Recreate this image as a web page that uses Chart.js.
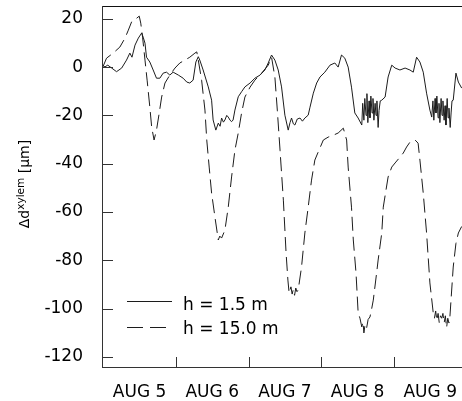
<!DOCTYPE html>
<html>
<head>
<meta charset="utf-8">
<script src="https://cdn.jsdelivr.net/npm/chart.js@4.4.1/dist/chart.umd.min.js"></script>
<style>
  html, body { margin: 0; padding: 0; background: #fff; overflow: hidden; }
</style>
</head>
<body>
<canvas id="chart" width="462" height="401"></canvas>
<script>
// hours since Aug 5 00:00, dxylem in um
const solidHours = [
  0, 0.6, 1.5, 2.8, 4.4, 6.1, 7.7, 8.8, 9.5, 10.5, 11.6, 12.7, 13.2, 13.8, 14.3, 15.4, 16.5, 17.6, 18.7, 19.8,
  20.9, 22.0, 23.1, 24.8, 26.4, 27.6, 28.6, 29.7, 30.6, 31.4, 31.9, 33.0, 34.7, 35.8, 36.3, 37.2, 38.0, 38.6, 39.1, 39.7,
  40.2, 40.8, 41.3, 41.9, 42.4, 42.9, 43.5, 44.6, 45.7, 46.8, 48.5, 50.1, 51.8, 53.4, 54.5, 55.6, 56.7, 57.8, 58.9, 60.0,
  61.1, 61.7, 62.2, 62.8, 63.3, 64.1, 65.0, 65.8, 66.6, 67.7, 68.3, 69.4, 70.5, 71.6, 73.2, 74.9, 76.5, 77.6, 78.7, 79.8,
  80.9, 82.0, 83.1, 84.2, 85.4, 85.7, 86.1, 86.4, 86.8, 87.1, 87.4, 87.8, 88.1, 88.4, 88.8, 89.1, 89.4, 89.8, 90.1, 90.4,
  90.8, 91.1, 91.5, 92.0, 93.1, 94.1, 95.3, 96.4, 98.0, 99.7, 101.3, 102.4, 103.5, 104.6, 105.7, 106.8, 107.9, 108.5, 108.9, 109.2,
  109.6, 109.9, 110.2, 110.6, 110.9, 111.2, 111.6, 111.9, 112.2, 112.6, 112.9, 113.2, 113.6, 113.9, 114.2, 114.6, 114.9, 115.2, 115.6, 116.5,
  117.3, 118.4
]
const solidValues = [
  0.4, 0.1, 0.8, -0.4, -1.9, -0.4, 2.9, 5.8, 4.1, 9.1, 12.0, 14.1, 12.4, 9.9, 4.1, 2.1, -1.2, -4.6, -4.6, -2.5,
  -2.1, -3.3, -2.1, -3.3, -4.6, -6.2, -6.6, -5.4, 2.1, 4.3, 2.9, -1.2, -8.2, -13.7, -21.9, -26.1, -23.2, -24.5, -21.1, -22.8,
  -21.9, -20.0, -20.7, -22.0, -22.6, -21.9, -17.8, -12.3, -10.2, -8.2, -6.6, -4.6, -3.3, -1.2, 1.7, 5.0, 2.9, -1.2, -8.2, -19.9,
  -26.1, -23.0, -21.1, -23.5, -24.0, -21.5, -21.1, -22.4, -21.1, -19.9, -16.6, -10.8, -6.6, -4.1, -2.1, 0.8, 1.7, 0, 5.0, 3.7,
  0, -8.3, -19.0, -21.1, -24.0, -15, -22, -13, -20, -11, -23, -14, -21, -12, -19, -13, -22, -15, -20, -14,
  -25, -18, -14, -13.7, -12.4, -4.1, 0.8, -0.4, -1.2, -0.4, -1.2, -2.1, 4.1, 2.1, -2.1, -10.8, -17.8, -20.7, -14, -22,
  -13, -19, -12, -21, -15, -23, -13, -20, -14, -22, -16, -24, -13, -21, -17, -25, -19, -14, -13.7, -2.5,
  -6.2, -8.7
]

const dashedHours = [
  0, 1.1, 3.3, 5.5, 7.2, 8.3, 9.4, 11.0, 11.9, 12.4, 13.0, 13.8, 14.5, 15.4, 16.0, 16.8, 17.6, 18.5, 19.3, 20.4,
  22.0, 23.7, 25.3, 27.0, 28.6, 30.3, 30.9, 31.4, 32.5, 33.6, 34.2, 35.0, 35.8, 36.9, 38.0, 38.5, 39.1, 40.2, 41.3, 42.4,
  43.5, 44.6, 45.7, 46.8, 48.5, 50.1, 52.3, 54.5, 55.6, 56.7, 57.5, 58.4, 59.5, 60.4, 61.0, 61.4, 62.0, 62.4, 62.8, 63.2,
  63.6, 64.0, 64.4, 65.5, 66.6, 67.7, 68.8, 69.9, 71.0, 72.7, 74.3, 76.0, 77.6, 79.3, 80.4, 80.9, 82.0, 82.6, 83.5, 84.2,
  84.8, 85.4, 85.8, 86.1, 86.5, 87.0, 87.5, 88.1, 88.6, 89.2, 90.3, 90.8, 92.0, 92.5, 93.4, 94.1, 95.3, 96.4, 98.0, 99.1,
  100.2, 101.3, 103.0, 104.0, 104.6, 105.7, 106.8, 107.9, 109.0, 109.4, 109.8, 110.2, 110.6, 111.0, 111.4, 111.8, 112.2, 112.6, 113.0, 113.4,
  113.8, 114.2, 114.5, 115.6, 116.5, 117.3, 118.4
]
const dashedValues = [
  0.4, 3.7, 5.8, 8.3, 12.0, 15.3, 18.8, 20.2, 21.1, 18.2, 12.4, 2.9, -5.4, -16.6, -24.8, -30.2, -26.1, -19.0, -12.4, -6.6,
  -3.3, -0.4, 1.7, 2.9, 4.1, 5.8, 6.3, 2.9, -5.4, -17.8, -30.2, -41.4, -52.2, -62.1, -71.6, -70.0, -70.8, -67.5, -58.0, -45.5,
  -34.4, -27.3, -19.0, -12.4, -8.3, -5.4, -2.5, 0.8, 4.1, -4.1, -17.8, -34.4, -55.1, -77.0, -88.2, -93.6, -91.0, -94.0, -92.0, -94.5,
  -91.5, -93.0, -92.3, -82.8, -68.7, -58.0, -46.8, -38.5, -35.2, -30.2, -29.0, -28.2, -27.3, -25.3, -30.2, -41.4, -58.0, -71.6, -85.3, -101.8,
  -104.0, -107.6, -105.5, -110.1, -106.5, -108.0, -104.5, -103.5, -100.5, -96.5, -85.3, -79.9, -68.7, -58.0, -50.9, -45.5, -41.4, -39.7, -37.3, -35.6,
  -33.1, -31.1, -30.2, -31.5, -38.5, -52.2, -68.7, -89.4, -101.8, -104, -101, -105, -102, -106, -103, -104, -102, -106, -103, -108,
  -104, -106, -103.5, -82.8, -73.0, -68.7, -66.0
]

const dayLabels = ['AUG 5', 'AUG 6', 'AUG 7', 'AUG 8', 'AUG 9']
const dayCenters = [12, 36, 60, 84, 108]
const dayEdges = [24, 48, 72, 96]
const yTicks = [-120, -100, -80, -60, -40, -20, 0, 20]
const seriesNames = ['h = 1.5 m', 'h = 15.0 m']

const toPoints = (xs, ys) => xs.map((x, i) => ({ x: x, y: ys[i] }))

const lineColor = '#1c1c1c'
const dashPattern = [14, 6]
const font = 'DejaVu Sans'

const frame = {
    id: 'frame',
    afterDraw(chart) {
        const { ctx, chartArea: a, scales } = chart
        const top = 6
        const left = Math.round(a.left)
        const bottom = Math.round(a.bottom)
        ctx.save()
        // frame: top, left, bottom (right side runs off the picture)
        ctx.fillStyle = '#111'
        ctx.fillRect(left, top, 462 - left, 1)
        ctx.fillStyle = '#333'
        ctx.fillRect(left, top, 1, bottom - top + 1)
        ctx.fillRect(left, bottom, 462 - left, 1)
        // inward ticks
        yTicks.forEach((v) => {
            const py = Math.round(scales.y.getPixelForValue(v))
            ctx.fillRect(left, py, 11, 1)
        })
        dayEdges.forEach((h) => {
            const px = Math.round(scales.x.getPixelForValue(h))
            ctx.fillRect(px, bottom - 10, 1, 10)
        })

        // legend inside the plot
        ctx.strokeStyle = lineColor
        ctx.lineWidth = 1
        ctx.beginPath()
        ctx.moveTo(127, 301.5)
        ctx.lineTo(172, 301.5)
        ctx.stroke()
        ctx.setLineDash([16, 7])
        ctx.beginPath()
        ctx.moveTo(127, 327.5)
        ctx.lineTo(172, 327.5)
        ctx.stroke()
        ctx.setLineDash([])
        ctx.fillStyle = '#000'
        ctx.font = '17px "' + font + '"'
        ctx.textBaseline = 'alphabetic'
        ctx.textAlign = 'left'
        ctx.fillText(seriesNames[0], 183, 310)
        ctx.fillText(seriesNames[1], 183, 334)

        // y axis title with superscript
        const main1 = '\u0394d'
        const sup = 'xylem'
        const main2 = ' [\u00b5m]'
        const mainFont = '14px "' + font + '"'
        const supFont = '10.5px "' + font + '"'
        ctx.font = mainFont
        const w1 = ctx.measureText(main1).width
        const w3 = ctx.measureText(main2).width
        ctx.font = supFont
        const w2 = ctx.measureText(sup).width
        const total = w1 + w2 + w3
        ctx.translate(29, 184)
        ctx.rotate(-Math.PI / 2)
        let x0 = -total / 2
        ctx.font = mainFont
        ctx.fillText(main1, x0, 0)
        ctx.font = supFont
        ctx.fillText(sup, x0 + w1, -5)
        ctx.font = mainFont
        ctx.fillText(main2, x0 + w1 + w2, 0)
        ctx.restore()
    },
}

new Chart(document.getElementById('chart'), {
    type: 'scatter',
    plugins: [frame],
    data: {
        datasets: [
            {
                label: seriesNames[0],
                data: toPoints(solidHours, solidValues),
                showLine: true,
                borderColor: lineColor,
                borderWidth: 1,
                pointRadius: 0,
                tension: 0,
            },
            {
                label: seriesNames[1],
                data: toPoints(dashedHours, dashedValues),
                showLine: true,
                borderColor: lineColor,
                borderWidth: 1,
                borderDash: dashPattern,
                pointRadius: 0,
                tension: 0,
            },
        ],
    },
    options: {
        responsive: false,
        animation: false,
        events: [],
        layout: { padding: { top: 6, right: 0, bottom: 0, left: 0 } },
        plugins: {
            legend: { display: false },
            tooltip: { enabled: false },
        },
        scales: {
            x: {
                type: 'linear',
                min: -0.4,
                max: 118.5,
                grid: { display: false },
                border: { display: false },
                afterBuildTicks: (scale) => {
                    scale.ticks = dayCenters.map((v) => ({ value: v }))
                },
                afterFit: (scale) => {
                    scale.height = 34
                    scale.paddingLeft = 0
                    scale.paddingRight = 0
                },
                ticks: {
                    autoSkip: false,
                    maxRotation: 0,
                    padding: 7,
                    color: '#000',
                    font: { family: font, size: 17 },
                    callback: (v, i) => dayLabels[i],
                },
            },
            y: {
                min: -124.2,
                max: 25.3,
                grid: { display: false },
                border: { display: false },
                afterBuildTicks: (scale) => {
                    scale.ticks = yTicks.map((v) => ({ value: v }))
                },
                afterFit: (scale) => {
                    scale.width = 102
                    scale.paddingTop = 0
                    scale.paddingBottom = 0
                },
                ticks: {
                    padding: 11,
                    color: '#000',
                    font: { family: font, size: 17 },
                    callback: (v) => String(v),
                },
            },
        },
    },
})
</script>
</body>
</html>
